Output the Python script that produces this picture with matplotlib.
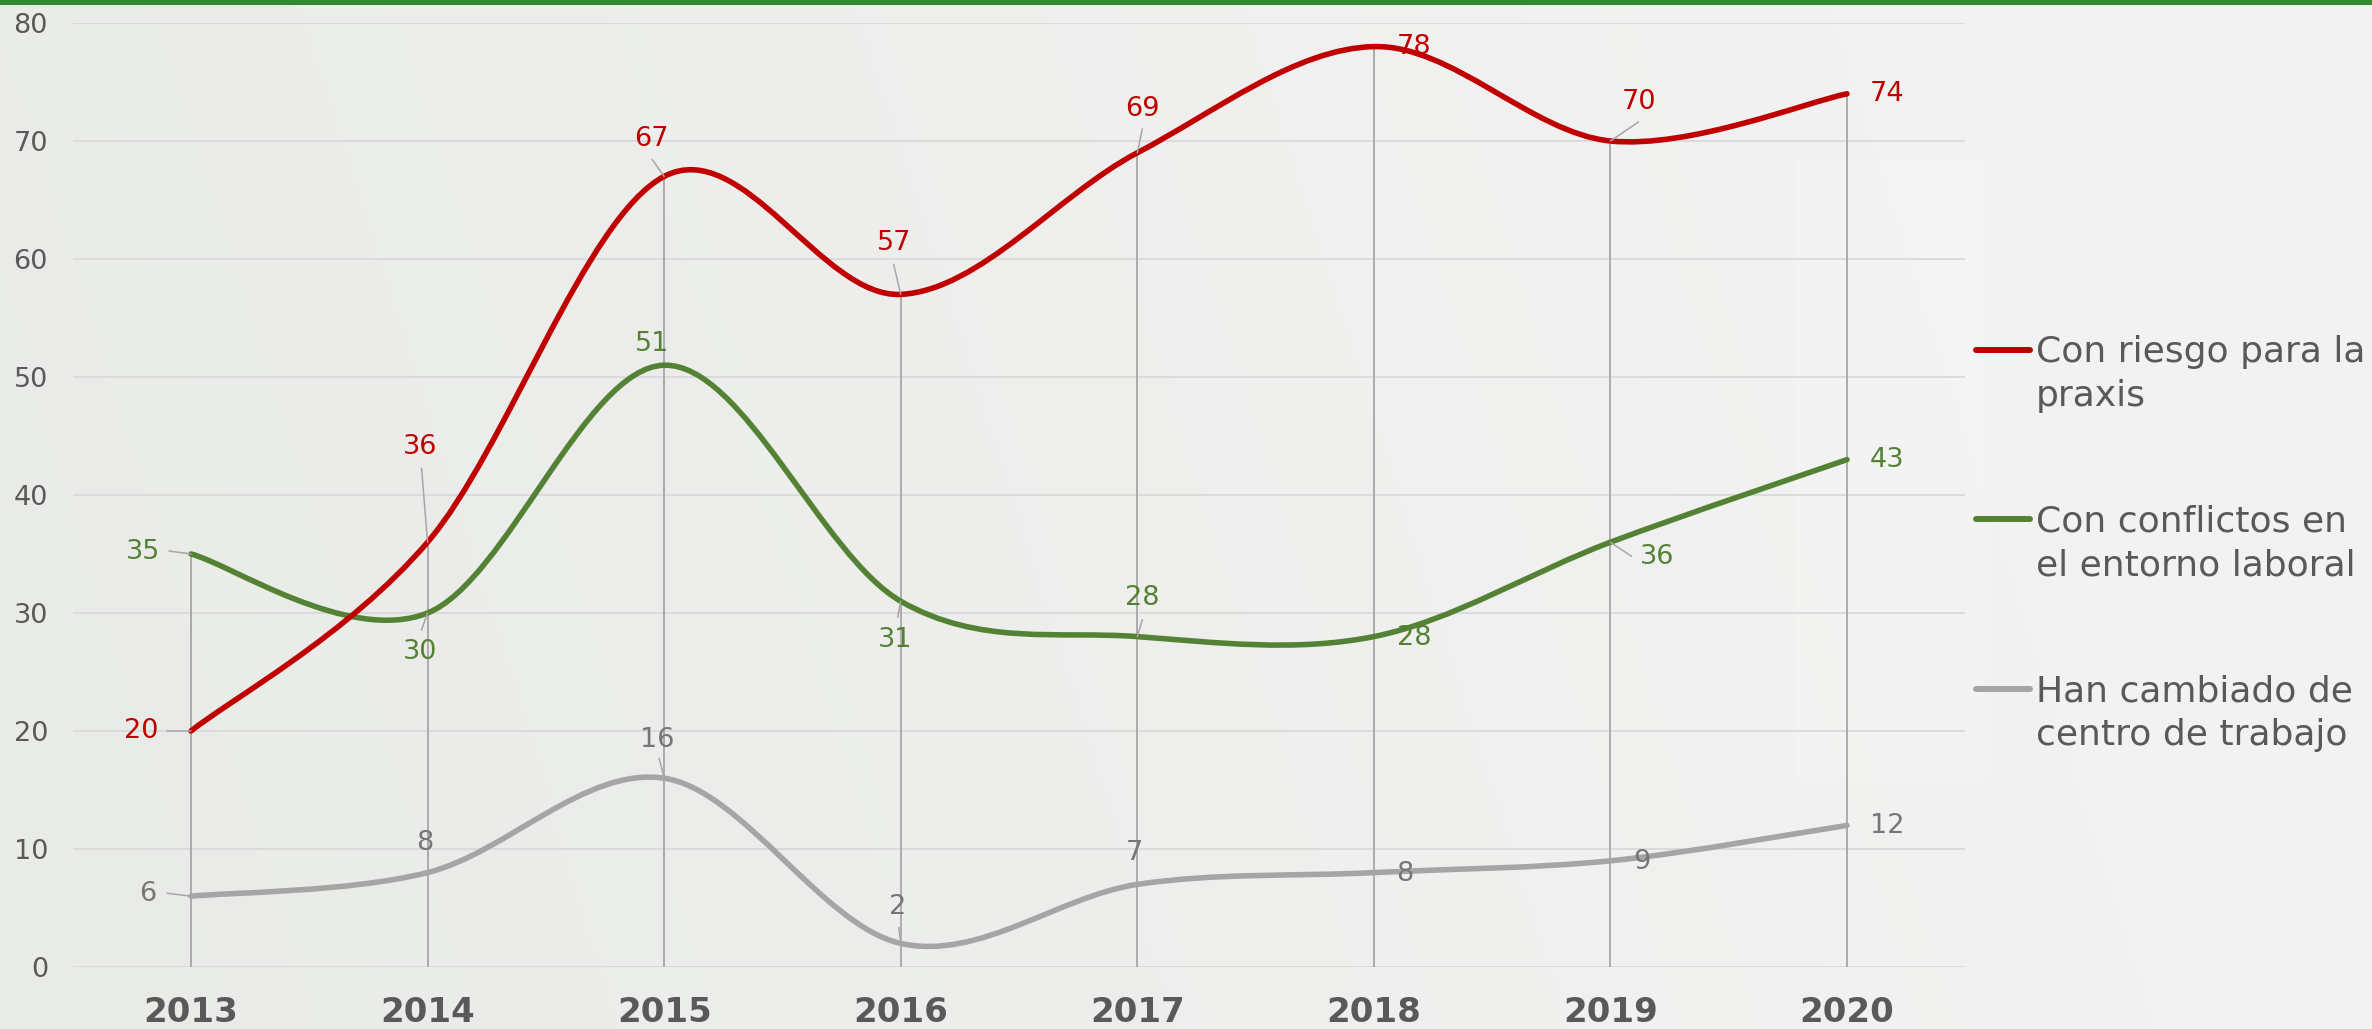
import numpy as np
import matplotlib.pyplot as plt
from matplotlib.path import Path
from matplotlib.patches import PathPatch, Rectangle
from matplotlib.lines import Line2D

# datos
years = ['2013', '2014', '2015', '2016', '2017', '2018', '2019', '2020']
riesgo_praxis = [20, 36, 67, 57, 69, 78, 70, 74]
conflictos_laboral = [35, 30, 51, 31, 28, 28, 36, 43]
cambio_centro = [6, 8, 16, 2, 7, 8, 9, 12]
series_labels = ['Con riesgo para la\npraxis',
                 'Con conflictos en\nel entorno laboral',
                 'Han cambiado de\ncentro de trabajo']

RED = '#C00000'
GREEN = '#548235'
GREY = '#A5A5A5'
GREY_TXT = '#767676'
TXT = '#595959'
GRID = '#D9D9D9'
DROP = '#A6A6A6'

W, H = 2372, 1029
PT = 72 / 100  # puntos por pixel

# offsets de las etiquetas (px: dx, dy hacia abajo) y arranque de la linea guia
red_lab = [(-50, 0), (-7, -95), (-13, -37), (-7, -51), (5, -44), (40, 0), (29, -39), (40, 0)]
red_lead = [(-24, 0), (-6, -74), (-12, -17), (-7, -30), (5, -24), None, (28, -19), None]
green_lab = [(-48, -2), (-7, 39), (-12, -21), (-6, 39), (5, -39), (40, 1), (47, 15), (40, 0)]
green_lead = [(-22, -3), (-6, 17), None, (-3, 16), (5, -17), None, (21, 14), None]
grey_lab = [(-43, -2), (-3, -30), (-7, -38), (-3, -36), (-3, -31), (31, 1), (31, 1), (40, 1)]
grey_lead = [(-24, -3), None, (-5, -20), (-2, -16), None, None, None, None]


def smooth_path(xs, ys):
    """curva suavizada tipo Excel (bezier catmull-rom)"""
    pts = np.column_stack([xs, ys]).astype(float)
    n = len(pts)
    verts = [pts[0]]
    codes = [Path.MOVETO]
    for i in range(n - 1):
        p0 = pts[max(i - 1, 0)]
        p1 = pts[i]
        p2 = pts[i + 1]
        p3 = pts[min(i + 2, n - 1)]
        verts += [p1 + (p2 - p0) / 6, p2 - (p3 - p1) / 6, p2]
        codes += [Path.CURVE4] * 3
    return Path(verts, codes)


fig = plt.figure(figsize=(W / 100, H / 100), dpi=100)

# fondo
bg = fig.add_axes([0, 0, 1, 1], zorder=-10)
gx = np.linspace(0, 1, 300)
gy = np.linspace(0, 1, 100)[:, None]
left = np.array([233, 235, 231]) / 255
right = np.array([242, 242, 242]) / 255
t = np.clip(gx[None, :] * 1.1 + 0.15 * gy, 0, 1)[..., None]
img = left * (1 - t) + right * t
bg.imshow(img, extent=[0, 1, 0, 1], aspect='auto', origin='lower')
bg.add_patch(Rectangle((1796 / W, 1 - 778 / H), 190 / W, 617 / H,
                       facecolor='white', alpha=0.2, edgecolor='none'))
bg.set_xlim(0, 1)
bg.set_ylim(0, 1)
bg.axis('off')

fig.add_artist(Rectangle((0, 1 - 5 / H), 1, 5 / H, transform=fig.transFigure,
                         facecolor='#2E8B2E', edgecolor='none'))

ax = fig.add_axes([72.7 / W, 62 / H, (1965.3 - 72.7) / W, 944 / H])
ax.set_facecolor('none')
x = np.arange(len(years))
ax.set_xlim(-0.5, 7.5)
ax.set_ylim(0, 80)
ax.set_yticks(range(0, 81, 10))
ax.set_xticks(x, years)
for s in ax.spines.values():
    s.set_visible(False)
ax.grid(axis='y', color=GRID, lw=1.3)
ax.set_axisbelow(True)
ax.tick_params(axis='y', length=0, pad=17.8, labelsize=19.5, labelcolor=TXT)
ax.tick_params(axis='x', length=0, pad=21, labelsize=24.5, labelcolor=TXT)
for lab in ax.get_xticklabels():
    lab.set_fontweight('bold')

# lineas de caida
tops = np.max([riesgo_praxis, conflictos_laboral, cambio_centro], axis=0)
ax.vlines(x, 0, tops, color=DROP, lw=1.3, zorder=4)

series = [
    (riesgo_praxis, RED, RED, red_lab, red_lead, 7),
    (conflictos_laboral, GREEN, GREEN, green_lab, green_lead, 6),
    (cambio_centro, GREY, GREY_TXT, grey_lab, grey_lead, 5),
]

for vals, col, tcol, labs, leads, z in series:
    ax.add_patch(PathPatch(smooth_path(x, vals), facecolor='none', edgecolor=col,
                           lw=4.0, capstyle='round', joinstyle='round', zorder=z))
    for xi, v, (dx, dy), lead in zip(x, vals, labs, leads):
        ax.annotate(str(v), (xi, v), xytext=(dx * PT, -dy * PT),
                    textcoords='offset points', ha='center', va='center',
                    fontsize=19.5, color=tcol, zorder=8)
        if lead is not None:
            ax.annotate('', (xi, v), xytext=(lead[0] * PT, -lead[1] * PT),
                        textcoords='offset points',
                        arrowprops=dict(arrowstyle='-', color=DROP, lw=1.1,
                                        shrinkA=0, shrinkB=0), zorder=8)

# leyenda (va='baseline' se refiere a la ultima linea)
for i, (lab, col) in enumerate(zip(series_labels, [RED, GREEN, GREY])):
    yc = [350, 519, 689][i]
    fig.add_artist(Line2D([1976 / W, 2030 / W], [1 - yc / H, 1 - yc / H],
                          transform=fig.transFigure, color=col, lw=4.3,
                          solid_capstyle='round'))
    fig.text(2036 / W, 1 - (yc + 13 + 43) / H, lab, ha='left', va='baseline',
             fontsize=26, color=TXT, linespacing=1.36)

fig.savefig('out.png', dpi=100)
